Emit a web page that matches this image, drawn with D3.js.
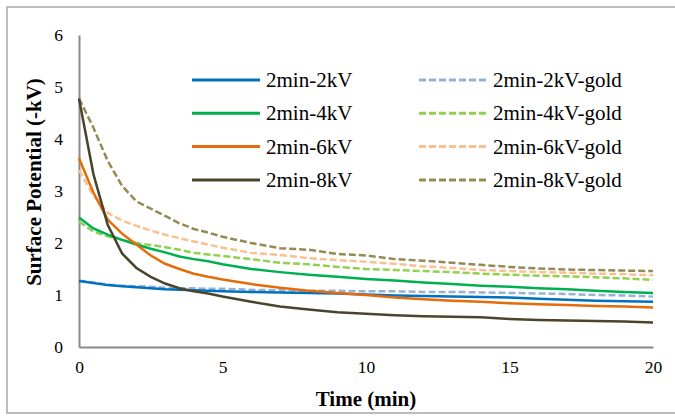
<!DOCTYPE html>
<meta charset="utf-8">
<style>
body { margin: 0; background: #fff; }
.line { fill: none; stroke-width: 2.5px; }
</style>
<body>
<script src="https://d3js.org/d3.v7.min.js"></script>
<script>

// time points (min)
var times = [0, 0.5, 1, 1.5, 2, 2.5, 3, 3.5, 4, 4.5, 5, 6, 7, 8, 9, 10, 11, 12, 13, 14, 15, 16, 17, 18, 19, 20];

// surface potential (-kV)
var kv2     = [1.27, 1.23, 1.19, 1.17, 1.15, 1.13, 1.11, 1.10, 1.09, 1.08, 1.07, 1.06, 1.05, 1.04, 1.03, 1.01, 0.99, 0.98, 0.97, 0.96, 0.95, 0.93, 0.91, 0.89, 0.88, 0.87];
var kv4     = [2.49, 2.28, 2.16, 2.06, 1.97, 1.89, 1.82, 1.74, 1.69, 1.65, 1.59, 1.50, 1.44, 1.39, 1.35, 1.31, 1.28, 1.24, 1.21, 1.18, 1.16, 1.13, 1.11, 1.08, 1.06, 1.04];
var kv6     = [3.63, 2.97, 2.45, 2.18, 1.97, 1.76, 1.60, 1.50, 1.41, 1.35, 1.30, 1.21, 1.14, 1.08, 1.04, 1.00, 0.95, 0.92, 0.89, 0.87, 0.84, 0.82, 0.81, 0.79, 0.78, 0.76];
var kv8     = [4.78, 3.33, 2.35, 1.80, 1.52, 1.35, 1.22, 1.13, 1.07, 1.03, 0.97, 0.87, 0.78, 0.72, 0.67, 0.64, 0.61, 0.59, 0.58, 0.57, 0.54, 0.52, 0.51, 0.50, 0.49, 0.47];
var kv2gold = [1.28, 1.24, 1.20, 1.18, 1.17, 1.16, 1.14, 1.13, 1.13, 1.12, 1.12, 1.10, 1.09, 1.08, 1.08, 1.07, 1.07, 1.06, 1.06, 1.05, 1.04, 1.03, 1.02, 1.00, 0.99, 0.97];
var kv4gold = [2.41, 2.22, 2.13, 2.06, 2.00, 1.96, 1.92, 1.87, 1.81, 1.78, 1.75, 1.69, 1.62, 1.59, 1.54, 1.50, 1.48, 1.46, 1.44, 1.41, 1.39, 1.37, 1.36, 1.34, 1.32, 1.29];
var kv6gold = [3.40, 2.92, 2.58, 2.43, 2.33, 2.24, 2.16, 2.09, 2.03, 1.97, 1.91, 1.81, 1.77, 1.71, 1.67, 1.64, 1.60, 1.55, 1.52, 1.48, 1.46, 1.44, 1.43, 1.41, 1.40, 1.38];
var kv8gold = [4.78, 4.22, 3.58, 3.10, 2.80, 2.66, 2.52, 2.38, 2.27, 2.20, 2.12, 2.00, 1.90, 1.87, 1.79, 1.76, 1.69, 1.66, 1.62, 1.58, 1.54, 1.51, 1.49, 1.48, 1.47, 1.46];

var names = ["2min-2kV", "2min-4kV", "2min-6kV", "2min-8kV",
             "2min-2kV-gold", "2min-4kV-gold", "2min-6kV-gold", "2min-8kV-gold"];
var colors = ["#0070c0", "#00b050", "#e46c0a", "#4a452a",
              "#95b3d7", "#92d050", "#fac090", "#948a54"];
var values = [kv2, kv4, kv6, kv8, kv2gold, kv4gold, kv6gold, kv8gold];

var xTicks = [0, 5, 10, 15, 20];
var yTicks = [0, 1, 2, 3, 4, 5, 6];

var W = 675, H = 416;
var serif = "'Liberation Serif', 'Times New Roman', serif";

var svg = d3.select("body").append("svg")
    .attr("width", W)
    .attr("height", H)
    .attr("font-family", serif);

// chart frame
svg.append("rect")
    .attr("x", 7).attr("y", 7)
    .attr("width", 690).attr("height", 406)
    .attr("fill", "none")
    .attr("stroke", "#a6a6a6")
    .attr("stroke-width", 1.5);

var x = d3.scaleLinear().domain([0, 20]).range([79, 653]);
var y = d3.scaleLinear().domain([0, 6]).range([347, 35]);

var line = d3.line()
    .x(function(d) { return x(d[0]); })
    .y(function(d) { return y(d[1]); });

// axes
var xAxis = svg.append("g")
    .attr("transform", "translate(0," + y(0) + ")")
    .call(d3.axisBottom(x).tickValues(xTicks).tickFormat(d3.format("d"))
      .tickSize(0).tickPadding(14));
var yAxis = svg.append("g")
    .attr("transform", "translate(" + x(0) + ",0)")
    .call(d3.axisLeft(y).tickValues(yTicks).tickFormat(d3.format("d"))
      .tickSize(0).tickPadding(16));

[xAxis, yAxis].forEach(function(g) {
  g.attr("font-family", serif).attr("font-size", 17.5);
  g.select(".domain").attr("stroke", "#898989").attr("stroke-width", 2);
  g.selectAll("text").attr("fill", "#000");
});

// series lines
var drawOrder = [4, 5, 6, 7, 0, 1, 2, 3];
drawOrder.forEach(function(i) {
  var pts = times.map(function(t, j) { return [t, values[i][j]]; });
  svg.append("path")
      .datum(pts)
      .attr("class", "line")
      .attr("stroke", colors[i])
      .attr("stroke-dasharray", i >= 4 ? "7,3" : null)
      .attr("d", line);
});

// legend
var leg = svg.append("g");
names.forEach(function(n, i) {
  var col = i < 4 ? 0 : 1;
  var row = i % 4;
  var lx = col === 0 ? 192 : 419;
  var ly = 80 + row * 33.3;
  leg.append("line")
      .attr("x1", lx).attr("x2", lx + 68)
      .attr("y1", ly).attr("y2", ly)
      .attr("stroke", colors[i])
      .attr("stroke-width", 3)
      .attr("stroke-dasharray", i >= 4 ? "7,3" : null);
  leg.append("text")
      .attr("x", lx + 74)
      .attr("y", ly + 7)
      .attr("font-family", serif)
      .attr("font-size", 21)
      .text(n);
});

// axis titles
svg.append("text")
    .attr("x", (x(0) + x(20)) / 2)
    .attr("y", 406)
    .attr("text-anchor", "middle")
    .attr("font-family", serif)
    .attr("font-size", 21)
    .attr("font-weight", "bold")
    .text("Time (min)");

svg.append("text")
    .attr("transform", "translate(41,182) rotate(-90)")
    .attr("text-anchor", "middle")
    .attr("font-family", serif)
    .attr("font-size", 21)
    .attr("font-weight", "bold")
    .text("Surface Potential (-kV)");

</script>
</body>
